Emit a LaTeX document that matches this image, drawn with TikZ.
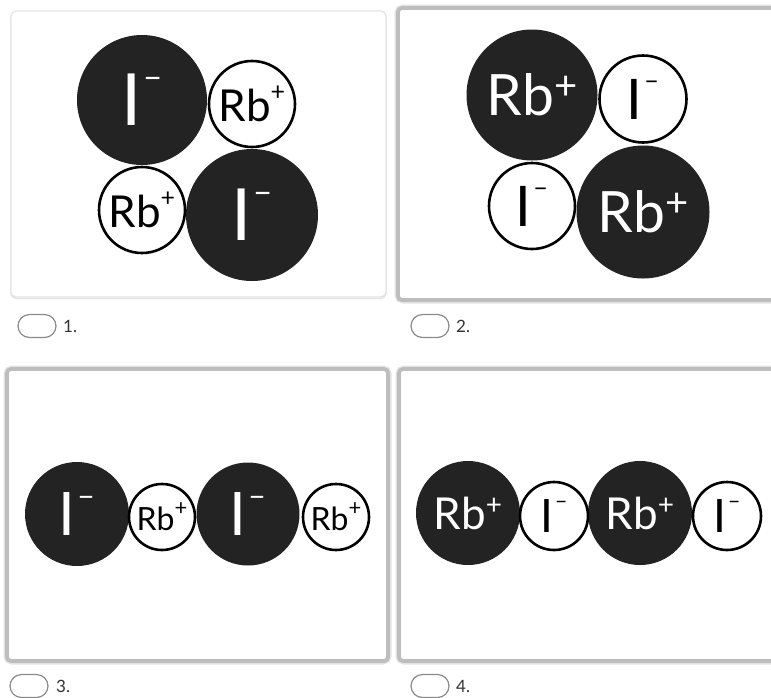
\documentclass[tikz,border=0pt]{standalone}
\usepackage{fontspec}
\setmainfont{Lato}
\definecolor{ink}{HTML}{232323}
\definecolor{cardedge}{HTML}{BDBDBD}
\definecolor{cardhalo}{HTML}{E2E2E2}
\definecolor{lightedge}{HTML}{E4E4E4}
\definecolor{pilledge}{HTML}{8A8A8A}
\definecolor{labeltext}{HTML}{333333}
\newcommand\RbIon[3]{\fontsize{#1}{#1}\selectfont Rb\raisebox{#3pt}{\fontsize{#2}{#2}\selectfont +}}
\newcommand\IIon[3]{\fontsize{#1}{#1}\selectfont I\kern1.5pt\raisebox{#3pt}{\fontsize{#2}{#2}\selectfont –}}
\tikzset{
  darkion/.style={circle, fill=ink, draw=none, text=white, inner sep=0pt, minimum size=#1},
  lightion/.style={circle, fill=white, draw=black, line width=2.6pt, text=black, inner sep=0pt, minimum size=#1},
  flatcard/.style={draw=lightedge, line width=1.3pt, rounded corners=5pt, fill=white},
  thickcard/.style={draw=cardedge, line width=3.8pt, rounded corners=4pt, fill=white},
  pill/.style={draw=pilledge, line width=1.2pt, rounded corners=11.5pt, minimum width=38pt, minimum height=23pt, inner sep=0pt},
  choice/.style={text=labeltext, font=\fontsize{17}{17}\selectfont, anchor=west, inner sep=0pt}
}
\begin{document}
\begin{tikzpicture}[x=1pt,y=-1pt]
\useasboundingbox (0,0) rectangle (771,697);
\fill[white] (0,0) rectangle (771,697);
% cards
\draw[cardhalo, line width=1.2pt, rounded corners=5pt] (11,12.5) rectangle (386,298.5);
\draw[flatcard] (11,11) rectangle (386,297);
\draw[cardhalo, line width=7pt, rounded corners=5pt] (398,8) rectangle (785,300);
\draw[thickcard] (398,8) rectangle (785,300);
\draw[cardhalo, line width=7pt, rounded corners=5pt] (7,369) rectangle (388,661);
\draw[thickcard] (7,369) rectangle (388,661);
\draw[cardhalo, line width=7pt, rounded corners=5pt] (399,369) rectangle (785,661);
\draw[thickcard] (399,369) rectangle (785,661);

% panel 1
\node[darkion=130pt] (a1) at (142,100) {\IIon{72}{34}{37}};
\node[darkion=132pt] (a2) at (252,215) {\IIon{72}{34}{37}};
\node[lightion=86pt] (a3) at (252,104) {\RbIon{44}{25}{21}};
\node[lightion=86pt] (a4) at (142,210) {\RbIon{44}{25}{21}};

% panel 2
\node[darkion=131pt] (b1) at (532,95) {\RbIon{57}{40}{16}};
\node[darkion=133pt] (b2) at (643,212) {\RbIon{57}{40}{16}};
\node[lightion=87pt] (b3) at (643,99) {\IIon{56}{26}{30}};
\node[lightion=86pt] (b4) at (532,206) {\IIon{56}{26}{30}};

% panel 3
\node[darkion=104pt] (c1) at (77,514) {\IIon{60}{31}{29}};
\node[darkion=103pt] (c3) at (248,514) {\IIon{60}{31}{29}};
\node[lightion=66pt] (c2) at (162,517) {\RbIon{32}{22}{15}};
\node[lightion=66pt] (c4) at (336,517) {\RbIon{32}{22}{15}};

% panel 4
\node[darkion=104pt] (d1) at (468,513) {\RbIon{44}{28}{15}};
\node[darkion=104pt] (d3) at (640,513) {\RbIon{44}{28}{15}};
\node[lightion=68pt] (d2) at (554,516) {\IIon{46}{22}{24}};
\node[lightion=68pt] (d4) at (727,516) {\IIon{46}{22}{24}};

% radio choices
\node[pill] (r1) at (37,326) {};
\node[choice] (l1) at (63,326) {1.};
\node[pill] (r2) at (430,326) {};
\node[choice] (l2) at (456,326) {2.};
\node[pill] (r3) at (29,686) {};
\node[choice] (l3) at (56,686) {3.};
\node[pill] (r4) at (430,686) {};
\node[choice] (l4) at (456,686) {4.};
\end{tikzpicture}
\end{document}
